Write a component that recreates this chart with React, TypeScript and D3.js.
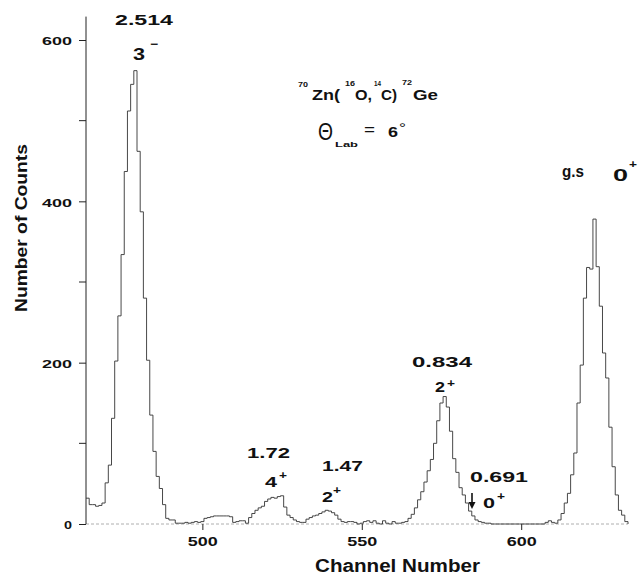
import React, { useRef, useEffect } from 'react';
import * as d3 from 'd3';

// counts per channel, starting at channel 464
const firstChannel = 464;
const counts = [
  32, 24, 24, 22, 23, 26, 51, 73, 131, 202, // 464-473
  258, 334, 437, 512, 545, 562, 462, 387, 280, 203, // 474-483
  135, 90, 59, 44, 24, 7, 5, 5, 1, 1, // 484-493
  1, 2, 1, 2, 3, 2, 3, 7, 8, 9, // 494-503
  10, 10, 10, 10, 10, 9, 2, 3, 4, 4, // 504-513
  1, 8, 13, 17, 20, 22, 28, 31, 33, 32, // 514-523
  34, 35, 21, 11, 8, 5, 3, 2, 2, 6, // 524-533
  8, 10, 11, 13, 15, 17, 16, 14, 11, 6, // 534-543
  3, 2, 3, 3, 2, 0, 1, 3, 4, 2, // 544-553
  4, 1, 0, 4, 1, 0, 3, 1, 1, 2, // 554-563
  3, 7, 12, 20, 30, 40, 52, 66, 80, 100, // 564-573
  128, 150, 158, 145, 115, 81, 64, 45, 36, 26, // 574-583
  16, 10, 5, 3, 2, 1, 1, 0, 0, 0, // 584-593
  0, 0, 0, 0, 0, 0, 0, 0, 0, 0, // 594-603
  0, 0, 0, 0, 2, 4, 2, 1, 5, 13, // 604-613
  26, 38, 61, 88, 150, 197, 280, 318, 316, 378, // 614-623
  319, 270, 212, 181, 120, 71, 36, 17, 11, 3, // 624-633
];

const yTicks = [0, 200, 400, 600];
const yMinorTicks = [100, 300, 500];
const xTicks = [500, 550, 600];

const font = '"Liberation Sans", Arial, Helvetica, sans-serif';

const App = () => {
  const chartRef = useRef<SVGSVGElement>(null);

  useEffect(() => {
    const svg = d3.select(chartRef.current);
    svg.selectAll('*').remove();

    const x = d3.scaleLinear().domain([463.5, 633.5]).range([86, 628]);
    const y = d3.scaleLinear().domain([0, 600]).range([524, 40]);

    // baseline (faint)
    svg.append('line')
      .attr('x1', x(463.5)).attr('x2', x(633.5))
      .attr('y1', y(0)).attr('y2', y(0))
      .attr('stroke', '#9a9a9a')
      .attr('stroke-width', 0.8)
      .attr('stroke-dasharray', '3,2');

    // y axis line
    svg.append('line')
      .attr('x1', x(463.5)).attr('x2', x(463.5))
      .attr('y1', y(629)).attr('y2', y(0))
      .attr('stroke', '#222')
      .attr('stroke-width', 1);

    const yAxis = svg.append('g')
      .attr('transform', `translate(${x(463.5)},0)`)
      .call(d3.axisLeft(y).tickValues(yTicks).tickSize(7).tickPadding(7));
    yAxis.select('.domain').remove();
    yAxis.selectAll('line').attr('stroke', '#222');
    yAxis.selectAll('text')
      .attr('dy', '0.42em')
      .attr('font-family', font)
      .attr('font-weight', 'bold')
      .attr('font-size', 11.5)
      .attr('fill', '#111')
      .attr('textLength', (d: any) => (String(d).length === 1 ? 8 : 30))
      .attr('lengthAdjust', 'spacingAndGlyphs');

    svg.append('g')
      .selectAll('line')
      .data(yMinorTicks)
      .enter()
      .append('line')
      .attr('x1', x(463.5) - 7).attr('x2', x(463.5))
      .attr('y1', d => y(d)).attr('y2', d => y(d))
      .attr('stroke', '#222');

    const xAxis = svg.append('g')
      .attr('transform', `translate(0,${y(0)})`)
      .call(d3.axisBottom(x).tickValues(xTicks).tickSize(6).tickPadding(7).tickFormat(d3.format('d')));
    xAxis.select('.domain').remove();
    xAxis.selectAll('line').attr('stroke', '#222');
    xAxis.selectAll('text')
      .attr('font-family', font)
      .attr('font-weight', 'bold')
      .attr('font-size', 12.5)
      .attr('fill', '#111')
      .attr('textLength', 30)
      .attr('lengthAdjust', 'spacingAndGlyphs');

    // spectrum as a step histogram
    const pts: [number, number][] = counts.map((v, i) => [firstChannel + i - 0.5, v]);
    const lastCh = firstChannel + counts.length - 0.5;
    pts.push([lastCh, counts[counts.length - 1]]);
    pts.push([lastCh, 0]);

    const line = d3.line<[number, number]>()
      .x(d => x(d[0]))
      .y(d => y(d[1]))
      .curve(d3.curveStepAfter);

    svg.append('path')
      .datum(pts)
      .attr('d', line)
      .attr('fill', 'none')
      .attr('stroke', '#333')
      .attr('stroke-width', 0.9);

    // text helper
    const label = (
      txt: string, px: number, py: number, size: number, len?: number,
      weight = 'bold', anchor = 'start'
    ) => {
      const t = svg.append('text')
        .attr('x', px).attr('y', py)
        .attr('font-family', font)
        .attr('font-weight', weight)
        .attr('font-size', size)
        .attr('fill', '#111')
        .attr('text-anchor', anchor)
        .text(txt);
      if (len) t.attr('textLength', len).attr('lengthAdjust', 'spacingAndGlyphs');
      return t;
    };

    // axis titles
    label('Channel Number', 315, 572, 18, 165);
    svg.append('text')
      .attr('transform', 'translate(27,312) rotate(-90)')
      .attr('font-family', font)
      .attr('font-weight', 'bold')
      .attr('font-size', 17)
      .attr('fill', '#111')
      .attr('textLength', 168)
      .attr('lengthAdjust', 'spacingAndGlyphs')
      .text('Number of Counts');

    // reaction
    label('70', 298, 87, 7.5, 10);
    label('Zn(', 312, 100, 15, 28);
    label('16', 345, 86, 7.5, 10);
    label('O,', 355, 100, 15, 17);
    label('14', 374, 86, 7.5, 7);
    label('C)', 381, 100, 15, 16);
    label('72', 402, 85, 7.5, 10);
    label('Ge', 413, 100, 15, 25);

    label('\u0398', 318, 140, 24, 15, 'normal');
    label('Lab', 335, 147, 8, 23);
    label('=', 364, 135, 14, 11, 'normal');
    label('6', 388, 137, 15, 10);
    label('\u00b0', 399, 133, 14, 7, 'normal');

    // level labels
    label('2.514', 115, 25, 15, 58);
    label('3', 133, 60, 16, 12);
    label('\u2212', 150, 48, 12, 8);

    label('g.s', 562, 177, 17, 22);
    label('0', 613, 181, 16, 15);
    label('+', 629, 168, 11, 8);

    label('0.834', 412, 367, 15, 60);
    label('2', 435, 392, 15, 10);
    label('+', 447, 387, 11, 8);

    label('1.72', 247, 458, 15, 43);
    label('4', 265, 487, 15, 12);
    label('+', 279, 479, 11, 8);

    label('1.47', 322, 471, 15, 41);
    label('2', 322, 502, 15, 11);
    label('+', 333, 494, 11, 8);

    label('0.691', 470, 482, 15, 58);
    label('0', 483, 508, 15, 12);
    label('+', 497, 500, 11, 8);

    // arrow for the 0.691 level
    svg.append('line')
      .attr('x1', 472).attr('x2', 472)
      .attr('y1', 493).attr('y2', 504)
      .attr('stroke', '#111')
      .attr('stroke-width', 1.6);
    svg.append('path')
      .attr('d', 'M468.5,502 L475.5,502 L472,509 Z')
      .attr('fill', '#111');
  }, []);

  return (
    <svg
      ref={chartRef}
      width={640}
      height={575}
      style={{ position: 'absolute', left: 0, top: 0, background: '#fff' }}
    />
  );
};

export default App;
